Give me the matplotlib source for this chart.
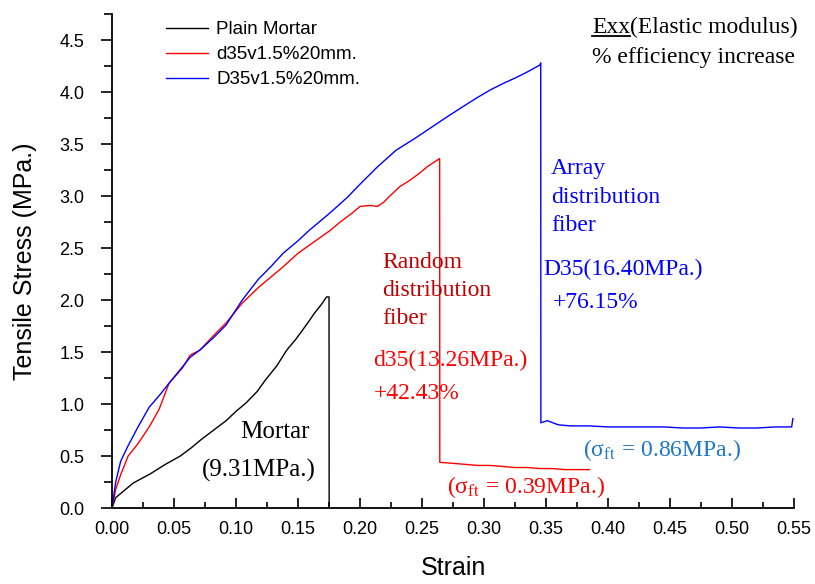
import numpy as np
import matplotlib.pyplot as plt

plt.rcParams['font.family'] = ['Liberation Sans', 'DejaVu Sans']
plt.rcParams['mathtext.fontset'] = 'stix'

# plain mortar
strain_m = [0.0, 0.003, 0.017, 0.031, 0.043, 0.055, 0.064, 0.071, 0.082, 0.092, 0.1,
            0.108, 0.117, 0.123, 0.133, 0.141, 0.148, 0.153, 0.159, 0.163, 0.169, 0.173, 0.175, 0.1751]
stress_m = [0.0, 0.1, 0.24, 0.33, 0.42, 0.5, 0.58, 0.65, 0.75, 0.84, 0.93,
            1.01, 1.12, 1.22, 1.37, 1.52, 1.62, 1.7, 1.8, 1.87, 1.96, 2.03, 2.03, 0.0]

# random distribution fiber d35
strain_r = [0.0, 0.003, 0.007, 0.013, 0.021, 0.03, 0.038, 0.046, 0.057, 0.063, 0.071, 0.082,
            0.092, 0.105, 0.118, 0.128, 0.138, 0.15, 0.163, 0.176, 0.184, 0.194, 0.2, 0.208,
            0.214, 0.219, 0.224, 0.232, 0.24, 0.248, 0.254, 0.259, 0.2642,
            0.2643, 0.275, 0.285, 0.295, 0.305, 0.315, 0.325, 0.335, 0.345, 0.355, 0.365, 0.375, 0.385]
stress_r = [0.0, 0.18, 0.32, 0.5, 0.62, 0.78, 0.95, 1.2, 1.35, 1.47, 1.52, 1.66,
            1.78, 1.97, 2.12, 2.22, 2.32, 2.45, 2.56, 2.67, 2.75, 2.84, 2.9, 2.91,
            2.9, 2.94, 3.0, 3.09, 3.15, 3.22, 3.28, 3.32, 3.36,
            0.44, 0.43, 0.42, 0.41, 0.41, 0.40, 0.39, 0.39, 0.38, 0.38, 0.37, 0.37, 0.37]

# array distribution fiber D35
strain_b = [0.0, 0.003, 0.007, 0.013, 0.021, 0.03, 0.038, 0.046, 0.057, 0.063, 0.071, 0.082,
            0.092, 0.105, 0.118, 0.128, 0.138, 0.15, 0.159, 0.176, 0.19, 0.198, 0.214, 0.229,
            0.245, 0.26, 0.27, 0.283, 0.295, 0.305, 0.315, 0.326, 0.336, 0.345, 0.3457,
            0.3458, 0.351, 0.36, 0.37, 0.385, 0.40, 0.415, 0.43, 0.445, 0.46, 0.475,
            0.49, 0.505, 0.52, 0.535, 0.548, 0.549]
stress_b = [0.0, 0.25, 0.45, 0.6, 0.78, 0.97, 1.08, 1.2, 1.36, 1.45, 1.52, 1.64,
            1.76, 2.0, 2.2, 2.32, 2.45, 2.57, 2.67, 2.84, 2.99, 3.09, 3.28, 3.44,
            3.56, 3.68, 3.76, 3.86, 3.95, 4.02, 4.08, 4.14, 4.2, 4.26, 4.28,
            0.82, 0.84, 0.80, 0.79, 0.79, 0.78, 0.78, 0.78, 0.78, 0.77, 0.77,
            0.78, 0.77, 0.77, 0.78, 0.78, 0.86]

fig = plt.figure(figsize=(8.15, 5.84), dpi=100)
ax = fig.add_axes([0.1374, 0.130, 0.837, 0.846])

ax.plot(strain_m, stress_m, color='black', lw=1.0, label='Plain Mortar')
ax.plot(strain_r, stress_r, color='red', lw=1.0, label='d35v1.5%20mm.')
ax.plot(strain_b, stress_b, color='blue', lw=1.0, label='D35v1.5%20mm.')

ax.set_xlim(0, 0.55)
ax.set_ylim(0, 4.75)
ax.set_xticks(np.arange(0, 0.551, 0.05))
ax.set_xticks(np.arange(0.025, 0.55, 0.05), minor=True)
ax.set_yticks(np.arange(0, 4.51, 0.5))
ax.set_yticks(np.arange(0.25, 4.76, 0.5), minor=True)
ax.xaxis.set_major_formatter(plt.FormatStrFormatter('%.2f'))
ax.yaxis.set_major_formatter(plt.FormatStrFormatter('%.1f'))

for s in ['top', 'right']:
    ax.spines[s].set_visible(False)
for s in ['left', 'bottom']:
    ax.spines[s].set_linewidth(1.3)
ax.tick_params(axis='x', which='major', direction='in', length=7, width=1.2, labelsize=13, pad=9)
ax.tick_params(axis='x', which='minor', direction='in', length=4, width=1.2)
ax.tick_params(axis='y', which='major', direction='out', length=8, width=1.2, labelsize=13, pad=12)
ax.tick_params(axis='y', which='minor', direction='out', length=6, width=1.2)

ax.set_xlabel('Strain', fontsize=18, labelpad=13)
ax.set_ylabel('Tensile Stress (MPa.)', fontsize=18, labelpad=16)

leg = ax.legend(loc='upper left', bbox_to_anchor=(0.055, 1.02), frameon=False, fontsize=13.5,
                handlelength=2.2, handletextpad=0.45, labelspacing=0.42)

serif = ['Liberation Serif', 'DejaVu Serif']
t = ax.text(0.387, 4.62, 'Exx', family=serif, fontsize=17, va='center')
ax.text(0.387, 4.33, '% efficiency increase', family=serif, fontsize=17, va='center')

ax.text(0.1315, 0.73, 'Mortar', family=serif, fontsize=18, ha='center', va='center')
ax.text(0.1185, 0.36, '(9.31MPa.)', family=serif, fontsize=18, ha='center', va='center')

ax.text(0.2177, 2.09, 'Random\ndistribution\nfiber', family=serif, fontsize=17,
        color='#c00000', va='center', linespacing=1.45)
ax.text(0.2105, 1.42, 'd35(13.26MPa.)', family=serif, fontsize=17, color='red', va='center')
ax.text(0.211, 1.10, '+42.43%', family=serif, fontsize=17, color='red', va='center')

ax.text(0.354, 2.99, 'Array\ndistribution\nfiber', family=serif, fontsize=17,
        color='blue', va='center', linespacing=1.45)
ax.text(0.348, 2.29, 'D35(16.40MPa.)', family=serif, fontsize=17, color='blue', va='center')
ax.text(0.3556, 1.98, '+76.15%', family=serif, fontsize=17, color='blue', va='center')

ax.text(0.380, 0.56, '(σ$_{\\rm ft}$ = 0.86MPa.)', family=serif, fontsize=17,
        color='#1f77c4', va='center')
ax.text(0.270, 0.20, '(σ$_{\\rm ft}$ = 0.39MPa.)', family=serif, fontsize=17,
        color='red', va='center')

# underline Exx and put the rest right after it
fig.canvas.draw()
bb = t.get_window_extent()
x_end = ax.transData.inverted().transform((bb.x1, bb.y0))[0]
ax.text(x_end, 4.62, '(Elastic modulus)', family=serif, fontsize=17, va='center')
bbf = bb.transformed(fig.transFigure.inverted())
fig.add_artist(plt.Line2D([bbf.x0, bbf.x1], [bbf.y0 + 0.003, bbf.y0 + 0.003],
                          transform=fig.transFigure, color='black', lw=1.3))

fig.savefig('out.png', dpi=100)
